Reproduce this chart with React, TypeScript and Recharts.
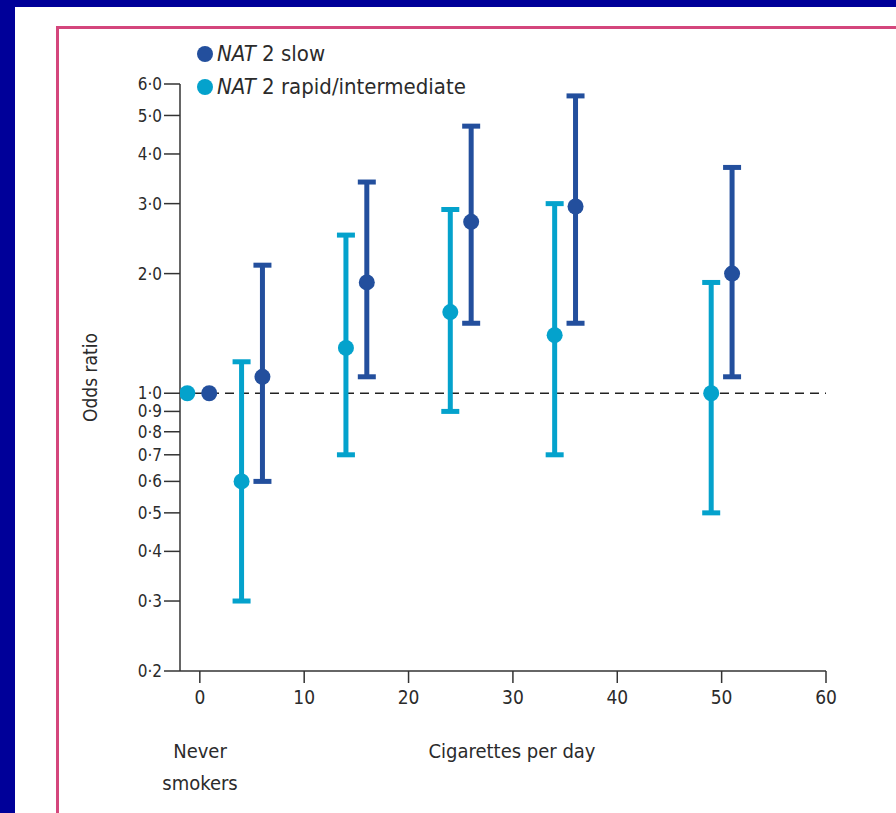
import React from 'react';
import {
  ScatterChart,
  Scatter,
  XAxis,
  YAxis,
  ErrorBar,
  ReferenceLine,
  Label,
} from 'recharts';

// x positions are cigarettes per day (never smokers drawn just around 0)
const rapidX = [-1.2, 4, 14, 24, 34, 49];
const rapidOR = [1.0, 0.6, 1.3, 1.6, 1.4, 1.0];
const rapidLow = [null, 0.3, 0.7, 0.9, 0.7, 0.5];
const rapidHigh = [null, 1.2, 2.5, 2.9, 3.0, 1.9];

const slowX = [0.9, 6, 16, 26, 36, 51];
const slowOR = [1.0, 1.1, 1.9, 2.7, 2.95, 2.0];
const slowLow = [null, 0.6, 1.1, 1.5, 1.5, 1.1];
const slowHigh = [null, 2.1, 3.4, 4.7, 5.6, 3.7];

const xTicks = [0, 10, 20, 30, 40, 50, 60];
const yTicks = [0.2, 0.3, 0.4, 0.5, 0.6, 0.7, 0.8, 0.9, 1.0, 2.0, 3.0, 4.0, 5.0, 6.0];

const SLOW = '#234f9d';
const RAPID = '#04a2cc';
const TEXT = '#2b2b2b';
const FONT = '"DejaVu Sans Condensed", "Liberation Sans Narrow", "Open Sans", sans-serif';

const build = (xs: number[], ors: number[], lo: (number | null)[], hi: (number | null)[]) =>
  xs.map((x, i) => ({
    x,
    y: ors[i],
    err: lo[i] == null || hi[i] == null ? undefined : [ors[i] - (lo[i] as number), (hi[i] as number) - ors[i]],
  }));

const slowData = build(slowX, slowOR, slowLow, slowHigh);
const rapidData = build(rapidX, rapidOR, rapidLow, rapidHigh);

const fmt = (v: number) => v.toFixed(1).replace('.', '·');

const dot = (color: string) => (props: any) => (
  <circle cx={props.cx} cy={props.cy} r={8} fill={color} />
);

const legendItems = [
  { c: SLOW, t: ' slow' },
  { c: RAPID, t: ' rapid/intermediate' },
];

const LegendBox = () => (
  <div
    style={{
      position: 'absolute',
      left: 197,
      top: 37,
      fontFamily: FONT,
      fontSize: 22,
      color: TEXT,
      lineHeight: '33px',
      whiteSpace: 'nowrap',
    }}
  >
    {legendItems.map((it) => (
      <div key={it.t} style={{ display: 'flex', alignItems: 'center' }}>
        <span
          style={{
            display: 'inline-block',
            width: 16,
            height: 16,
            borderRadius: 8,
            background: it.c,
            marginRight: 4,
          }}
        />
        <span>
          <i>NAT</i> 2{it.t}
        </span>
      </div>
    ))}
  </div>
);

const XLabels = (props: any) => {
  const { viewBox } = props;
  const y = viewBox.y + viewBox.height;
  return (
    <g fontFamily={FONT} fontSize={20} fill={TEXT} textAnchor="middle">
      <text x={200} y={y + 57}>Never</text>
      <text x={200} y={y + 89}>smokers</text>
      <text x={512} y={y + 57}>Cigarettes per day</text>
    </g>
  );
};

export default function App() {
  return (
    <div
      style={{
        position: 'absolute',
        left: 0,
        top: 0,
        width: 896,
        height: 813,
        background: '#000099',
        overflow: 'hidden',
      }}
    >
      <div style={{ position: 'absolute', left: 15, top: 7, width: 900, height: 900, background: '#fff' }} />
      <div
        style={{
          position: 'absolute',
          left: 56,
          top: 26,
          width: 900,
          height: 900,
          border: '3px solid #d4467c',
        }}
      />
      <div style={{ position: 'absolute', left: 0, top: 0 }}>
        <ScatterChart width={896} height={813} margin={{ top: 84, right: 70, bottom: 112, left: 100 }}>
          <XAxis
            type="number"
            dataKey="x"
            domain={[-1.9, 60]}
            ticks={xTicks}
            allowDataOverflow
            tickSize={12}
            tickMargin={8}
            height={30}
            stroke="#333"
            strokeWidth={1.5}
            tick={{ fontFamily: FONT, fontSize: 19, fill: TEXT }}
          >
            <Label content={<XLabels />} />
          </XAxis>
          <YAxis
            type="number"
            dataKey="y"
            scale="log"
            domain={[0.2, 6]}
            ticks={yTicks}
            allowDataOverflow
            interval={0}
            width={80}
            tickSize={16}
            tickMargin={2}
            tickFormatter={fmt}
            stroke="#333"
            strokeWidth={1.5}
            tick={{ fontFamily: FONT, fontSize: 17, fill: TEXT }}
          >
            <Label
              value="Odds ratio"
              angle={-90}
              position="insideLeft"
              offset={0}
              dx={-10}
              style={{ fontFamily: FONT, fontSize: 19, fill: TEXT, textAnchor: 'middle' }}
            />
          </YAxis>
          <ReferenceLine y={1} stroke="#222" strokeWidth={1.6} strokeDasharray="9 6" />
          <Scatter name="slow" data={slowData} fill={SLOW} shape={dot(SLOW)} isAnimationActive={false}>
            <ErrorBar dataKey="err" direction="y" width={9} stroke={SLOW} strokeWidth={5} />
          </Scatter>
          <Scatter name="rapid" data={rapidData} fill={RAPID} shape={dot(RAPID)} isAnimationActive={false}>
            <ErrorBar dataKey="err" direction="y" width={9} stroke={RAPID} strokeWidth={5} />
          </Scatter>
        </ScatterChart>
      </div>
      <LegendBox />
    </div>
  );
}
